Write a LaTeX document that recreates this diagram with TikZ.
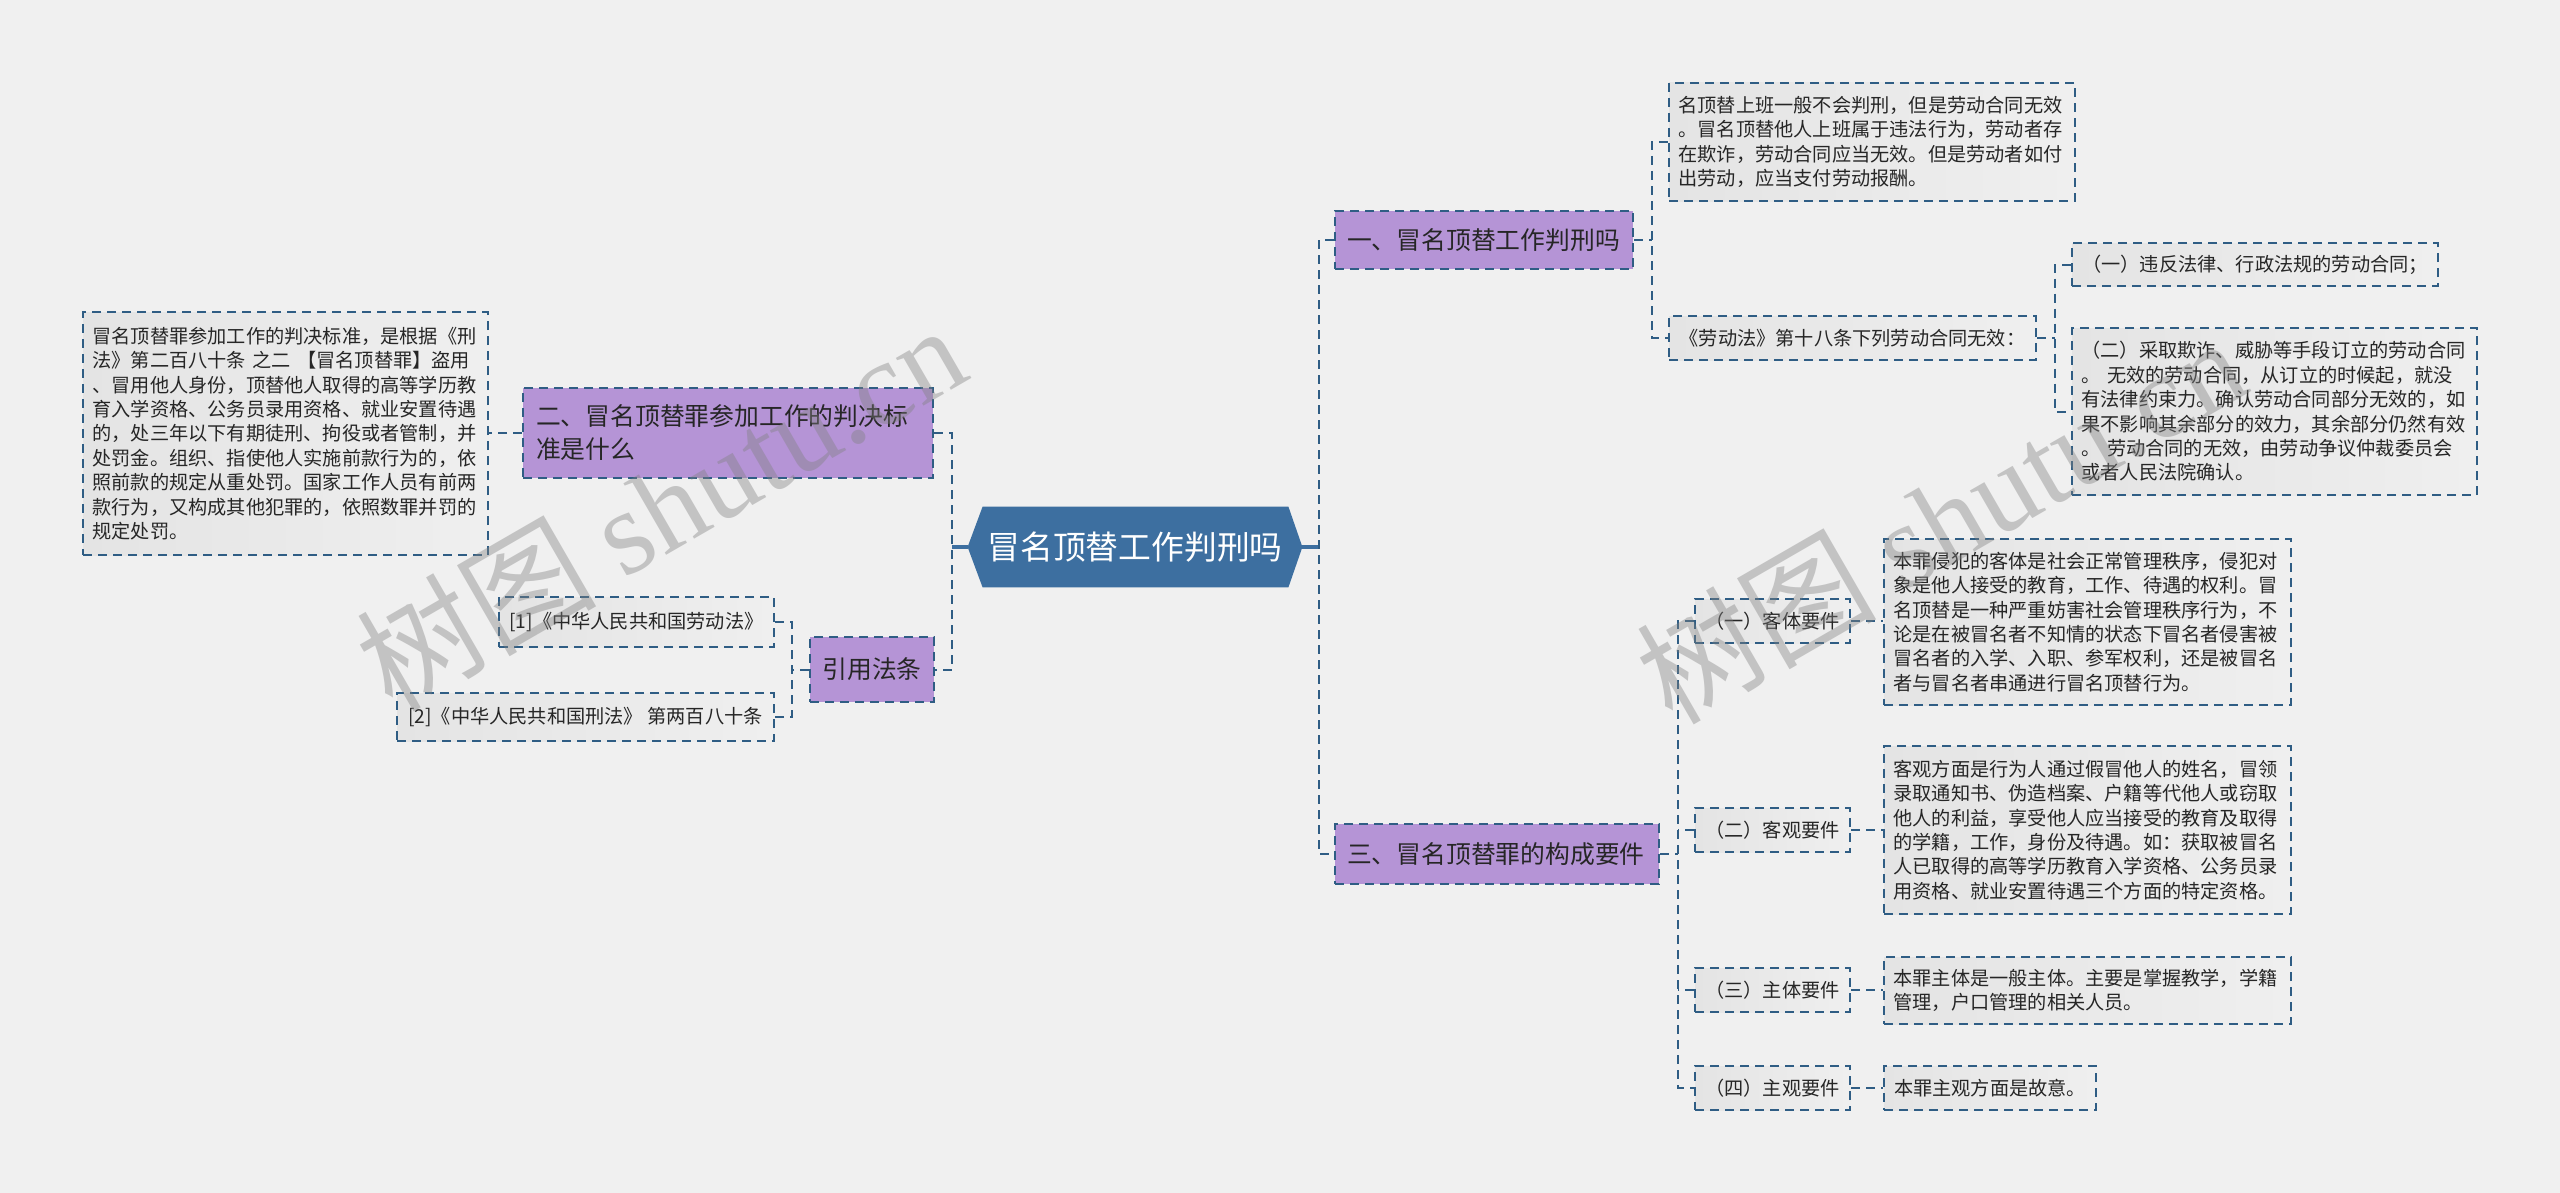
\documentclass[tikz,border=0pt]{standalone}
\usepackage{fontspec}
\setmainfont{Noto Sans CJK SC}
\newfontfamily\wmlatin{Liberation Serif}
\usetikzlibrary{backgrounds}
\definecolor{bgc}{HTML}{F0F0F0}
\definecolor{linec}{HTML}{2F5D84}
\definecolor{rootc}{HTML}{3D6FA0}
\definecolor{purp}{HTML}{B594D6}
\definecolor{leafl}{HTML}{E4E4E4}
\definecolor{leafr}{HTML}{EFEFEF}
\definecolor{txt}{HTML}{262626}
\begin{document}
\begin{tikzpicture}[x=0.5pt,y=-0.5pt,
  dsh/.style={dash pattern=on 4.5pt off 3pt},
  conn/.style={draw=linec, line width=1pt, dsh},
  rootconn/.style={draw=rootc, line width=1.6pt},
  leaf/.style={draw=linec, line width=1pt, dsh, left color=leafl, right color=leafr, inner sep=0pt, align=left, text=txt, font=\fontsize{9.6pt}{12.2pt}\selectfont},
  topic/.style={draw=linec, line width=1pt, dsh, fill=purp, inner sep=0pt, align=left, text=txt, font=\fontsize{12.4pt}{16.5pt}\selectfont},
  wm/.style={text=gray, opacity=0.4, font=\fontsize{60pt}{60pt}\selectfont, rotate=30, inner sep=0pt}
]
\useasboundingbox (0,0) rectangle (2560,1193);
\begin{pgfonlayer}{background}
\fill[bgc] (0,0) rectangle (2560,1193);
\end{pgfonlayer}

% root
\node[inner sep=0pt, minimum width=167pt, minimum height=40pt, text=white, font=\fontsize{16.4pt}{18pt}\selectfont] (root) at (1135,547) {冒名顶替工作判刑吗};
\begin{pgfonlayer}{background}
\fill[rootc] (root.west) -- ([xshift=7.5pt]root.north west) -- ([xshift=-7pt]root.north east) -- (root.east) -- ([xshift=-7pt]root.south east) -- ([xshift=7.5pt]root.south west) -- cycle;
\end{pgfonlayer}

% left side
\node[topic, minimum width=205pt, minimum height=45pt, text width=192pt] (n2) at (728,433) {二、冒名顶替罪参加工作的判决标\\准是什么};
\node[leaf, minimum width=202.5pt, minimum height=121.5pt, text width=193pt] (p2) at (285.5,433.5) {冒名顶替罪参加工作的判决标准，是根据《刑\\法》第二百八十条 之二 【冒名顶替罪】盗用\\、冒用他人身份，顶替他人取得的高等学历教\\育入学资格、公务员录用资格、就业安置待遇\\的，处三年以下有期徒刑、拘役或者管制，并\\处罚金。组织、指使他人实施前款行为的，依\\照前款的规定从重处罚。国家工作人员有前两\\款行为，又构成其他犯罪的，依照数罪并罚的\\规定处罚。};
\node[topic, minimum width=62pt, minimum height=32.5pt, align=center] (yy) at (872,669.5) {引用法条};
\node[leaf, minimum width=137.5pt, minimum height=25pt] (r1) at (636.5,622) {[1]《中华人民共和国劳动法》};
\node[leaf, minimum width=188.5pt, minimum height=24pt] (r2) at (585.5,717) {[2]《中华人民共和国刑法》 第两百八十条};

% right side
\node[topic, minimum width=149pt, minimum height=29pt, text width=137pt] (n1) at (1484,240) {一、冒名顶替工作判刑吗};
\node[topic, minimum width=162pt, minimum height=30pt, text width=150pt] (n3) at (1497,854) {三、冒名顶替罪的构成要件};

\node[leaf, minimum width=203pt, minimum height=59pt, text width=193.5pt] (lA) at (1872,142) {名顶替上班一般不会判刑，但是劳动合同无效\\。冒名顶替他人上班属于违法行为，劳动者存\\在欺诈，劳动合同应当无效。但是劳动者如付\\出劳动，应当支付劳动报酬。};
\node[leaf, minimum width=183.5pt, minimum height=22pt] (lB) at (1852.5,338) {《劳动法》第十八条下列劳动合同无效：};
\node[leaf, minimum width=183pt, minimum height=21.5pt] (b1) at (2255,264.5) {（一）违反法律、行政法规的劳动合同；};
\node[leaf, minimum width=202.5pt, minimum height=83.5pt, text width=193pt] (b2) at (2274.5,411.5) {（二）采取欺诈、威胁等手段订立的劳动合同\\。 无效的劳动合同，从订立的时候起，就没\\有法律约束力。确认劳动合同部分无效的，如\\果不影响其余部分的效力，其余部分仍然有效\\。 劳动合同的无效，由劳动争议仲裁委员会\\或者人民法院确认。};

\node[leaf, minimum width=77.5pt, minimum height=22pt] (k1) at (1772.5,621) {（一）客体要件};
\node[leaf, minimum width=77.5pt, minimum height=22pt] (k2) at (1772.5,830) {（二）客观要件};
\node[leaf, minimum width=77.5pt, minimum height=22pt] (k3) at (1772.5,990) {（三）主体要件};
\node[leaf, minimum width=77.5pt, minimum height=22pt] (k4) at (1772.5,1088) {（四）主观要件};

\node[leaf, minimum width=203.5pt, minimum height=83pt, text width=194pt] (d1) at (2087.5,622) {本罪侵犯的客体是社会正常管理秩序，侵犯对\\象是他人接受的教育，工作、待遇的权利。冒\\名顶替是一种严重妨害社会管理秩序行为，不\\论是在被冒名者不知情的状态下冒名者侵害被\\冒名者的入学、入职、参军权利，还是被冒名\\者与冒名者串通进行冒名顶替行为。};
\node[leaf, minimum width=203.5pt, minimum height=84pt, text width=194pt] (d2) at (2087.5,830) {客观方面是行为人通过假冒他人的姓名，冒领\\录取通知书、伪造档案、户籍等代他人或窃取\\他人的利益，享受他人应当接受的教育及取得\\的学籍，工作，身份及待遇。如：获取被冒名\\人已取得的高等学历教育入学资格、公务员录\\用资格、就业安置待遇三个方面的特定资格。};
\node[leaf, minimum width=203.5pt, minimum height=33.5pt, text width=194pt] (d3) at (2087.5,990.5) {本罪主体是一般主体。主要是掌握教学，学籍\\管理，户口管理的相关人员。};
\node[leaf, minimum width=106pt, minimum height=22pt] (d4) at (1990,1088) {本罪主观方面是故意。};

% trunk coordinates
\coordinate (tl) at (952,0);
\coordinate (tr) at (1319,0);
\coordinate (t4) at (792,0);
\coordinate (t1) at (1652,0);
\coordinate (t2) at (2055,0);
\coordinate (t3) at (1678,0);

% connectors left
\draw[rootconn] (root.west) -- (root.west -| tl);
\draw[conn] (n2.east) -- (n2.east -| tl) -- (yy.east -| tl) -- (yy.east);
\draw[conn] (n2.west) -- (n2.west -| p2.east);
\draw[conn] (yy.west) -- (yy.west -| t4);
\draw[conn] (r1.east) -- (r1.east -| t4) -- (r2.east -| t4) -- (r2.east);

% connectors right
\draw[rootconn] (root.east) -- (root.east -| tr);
\draw[conn] (n1.west) -- (n1.west -| tr) -- (n3.west -| tr) -- (n3.west);
\draw[conn] (n1.east) -- (n1.east -| t1);
\draw[conn] (lA.west) -- (lA.west -| t1) -- (lB.west -| t1) -- (lB.west);
\draw[conn] (lB.east) -- (lB.east -| t2);
\draw[conn] (b1.west) -- (b1.west -| t2) -- (b2.west -| t2) -- (b2.west);
\draw[conn] (n3.east) -- (n3.east -| t3);
\draw[conn] (k1.west) -- (k1.west -| t3) -- (k4.west -| t3) -- (k4.west);
\draw[conn] (k2.west) -- (k2.west -| t3);
\draw[conn] (k3.west) -- (k3.west -| t3);
\draw[conn] (k1.east) -- (k1.east -| d1.west);
\draw[conn] (k2.east) -- (k2.east -| d2.west);
\draw[conn] (k3.east) -- (k3.east -| d3.west);
\draw[conn] (k4.east) -- (k4.east -| d4.west);

% watermarks
\node[wm] (wm1) at (660,506) {树图 {\wmlatin shutu.cn}};
\node[wm] (wm2) at (1940,519) {树图 {\wmlatin shutu.cn}};
\end{tikzpicture}
\end{document}
